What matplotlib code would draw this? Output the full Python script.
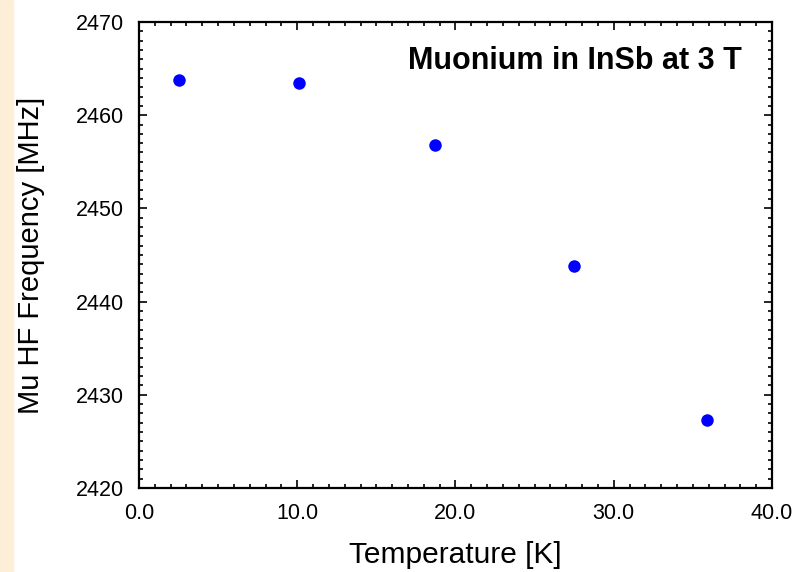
import matplotlib
matplotlib.use("Agg")
import matplotlib.pyplot as plt  # noqa: E402
from matplotlib.ticker import MultipleLocator, FormatStrFormatter  # noqa: E402
from matplotlib.patches import Rectangle  # noqa: E402

# muonium hyperfine frequency vs temperature
temp_k = [2.5, 10.1, 18.7, 27.5, 35.9]
freq_mhz = [2463.8, 2463.5, 2456.8, 2443.8, 2427.3]

plt.rcParams["font.family"] = ["Liberation Sans", "DejaVu Sans"]

fig = plt.figure(figsize=(7.93, 5.72), dpi=100)
# peach strip down the left edge
fig.patches.append(Rectangle((0, 0), 13 / 793, 1, transform=fig.transFigure,
                             color="#fdeed8", zorder=0))
ax = fig.add_axes([139 / 793, 1 - 488 / 572, 633 / 793, 466 / 572])

ax.plot(temp_k, freq_mhz, "o", ms=9, color="#0000ff", mec="none")

ax.set_xlim(0, 40)
ax.set_ylim(2420, 2470)
ax.xaxis.set_major_locator(MultipleLocator(10))
ax.xaxis.set_minor_locator(MultipleLocator(1))
ax.yaxis.set_major_locator(MultipleLocator(10))
ax.yaxis.set_minor_locator(MultipleLocator(1))
ax.xaxis.set_major_formatter(FormatStrFormatter("%.1f"))
ax.tick_params(which="both", direction="in", top=True, right=True,
               labelsize=15.5, width=1.2)
ax.tick_params(which="major", length=6, pad=11)
ax.tick_params(which="minor", length=3)
for s in ax.spines.values():
    s.set_linewidth(1.6)

ax.set_xlabel("Temperature [K]", fontsize=21.5, labelpad=12)
ax.set_ylabel("Mu HF Frequency [MHz]", fontsize=21, labelpad=22)
ax.text(0.9526, 0.917, "Muonium in InSb at 3 T", transform=ax.transAxes,
        ha="right", va="center", fontsize=22, fontweight="bold")

fig.savefig("out.png", dpi=100)
